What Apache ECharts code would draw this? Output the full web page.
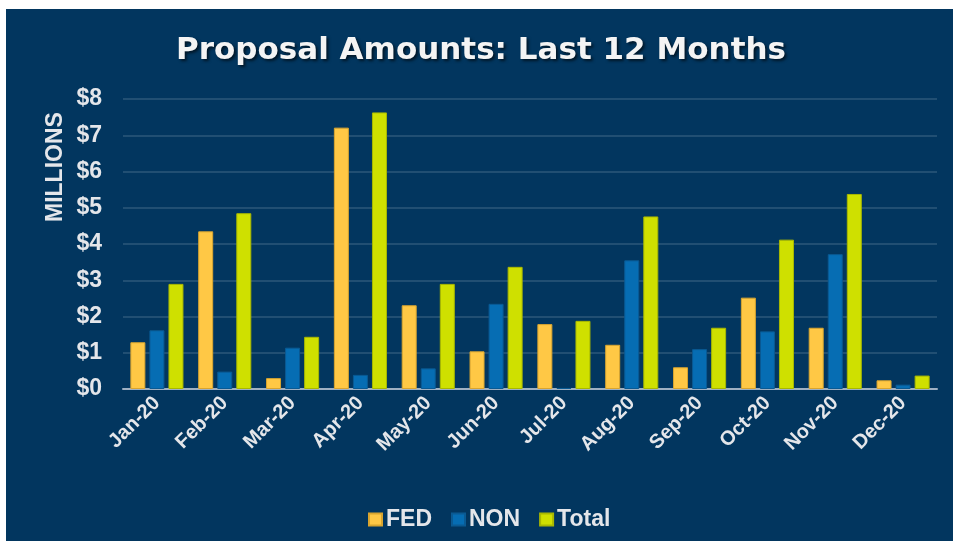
<!DOCTYPE html>
<html>
<head>
<meta charset="utf-8">
<script src="https://cdn.jsdelivr.net/npm/echarts@6/dist/echarts.min.js"></script>
<style>
  html, body { margin: 0; padding: 0; background: #fff; }
  #main { width: 955px; height: 547px; }
</style>
</head>
<body>
<div id="main"></div>
<script>
// data, in millions
const months = ["Jan-20", "Feb-20", "Mar-20", "Apr-20", "May-20", "Jun-20",
                "Jul-20", "Aug-20", "Sep-20", "Oct-20", "Nov-20", "Dec-20"];
const fedValues = [1.29, 4.35, 0.30, 7.21, 2.31, 1.04, 1.79, 1.22, 0.60, 2.52, 1.69, 0.24];
const nonValues = [1.62, 0.48, 1.14, 0.39, 0.57, 2.35, 0.03, 3.55, 1.10, 1.59, 3.72, 0.12];
const totalValues = [2.90, 4.85, 1.44, 7.63, 2.90, 3.37, 1.88, 4.76, 1.69, 4.12, 5.38, 0.37];

const NAVY = "#02365f";
const TXT = "#e4e6ea";
const FONT = "'Liberation Sans', Arial, sans-serif";

const chart = echarts.init(document.getElementById("main"));

const barStyle = (color, border) => ({
  type: "bar",
  barWidth: 15,
  barGap: "27%",
  itemStyle: { color: color, borderColor: border, borderWidth: 1 }
});

const option = {
  backgroundColor: "#fff",
  animation: false,
  graphic: [
    // navy panel
    { type: "rect", z: -10, shape: { x: 6, y: 9, width: 947, height: 532 }, style: { fill: NAVY } },
    {
      type: "text", x: 44, y: 222, rotation: Math.PI / 2,
      style: { text: "MILLIONS", fill: TXT, font: "bold 23px " + FONT, textVerticalAlign: "top" }
    }
  ],
  title: {
    text: "Proposal Amounts: Last 12 Months",
    left: 176,
    top: 35,
    padding: 0,
    textStyle: {
      color: "#f4f4f4", fontFamily: "'DejaVu Sans', sans-serif", fontWeight: "bold", fontSize: 31,
      textShadowColor: "rgba(0,0,0,0.6)", textShadowBlur: 3, textShadowOffsetX: 2, textShadowOffsetY: 2
    }
  },
  legend: {
    top: 503,
    left: 363,
    itemWidth: 13,
    itemHeight: 12,
    itemGap: 19,
    icon: "rect",
    textStyle: { color: TXT, fontFamily: FONT, fontWeight: "bold", fontSize: 23, padding: [0, 0, 0, -1] },
    data: ["FED", "NON", "Total"]
  },
  grid: { left: 123, right: 18, top: 99, bottom: 158 },
  xAxis: {
    type: "category",
    data: months,
    axisLine: { lineStyle: { color: "#9fb0c2", width: 2 } },
    axisTick: { show: false },
    axisLabel: {
      rotate: 45, color: TXT, fontFamily: FONT, fontWeight: "bold", fontSize: 20, margin: 11
    }
  },
  yAxis: {
    type: "value",
    min: 0,
    max: 8,
    interval: 1,
    axisLine: { show: false },
    axisTick: { show: false },
    splitLine: { lineStyle: { color: "rgba(255,255,255,0.17)", width: 1.5 } },
    axisLabel: {
      color: TXT, fontFamily: FONT, fontWeight: "bold", fontSize: 23, margin: 21,
      formatter: v => "$" + v
    }
  },
  series: [
    Object.assign({ name: "FED", data: fedValues }, barStyle("#ffc845", "#d9a52f")),
    Object.assign({ name: "NON", data: nonValues }, barStyle("#066db3", "#0a5a93")),
    Object.assign({ name: "Total", data: totalValues }, barStyle("#cfe000", "#a9b800"))
  ]
};

chart.setOption(option);
</script>
</body>
</html>
